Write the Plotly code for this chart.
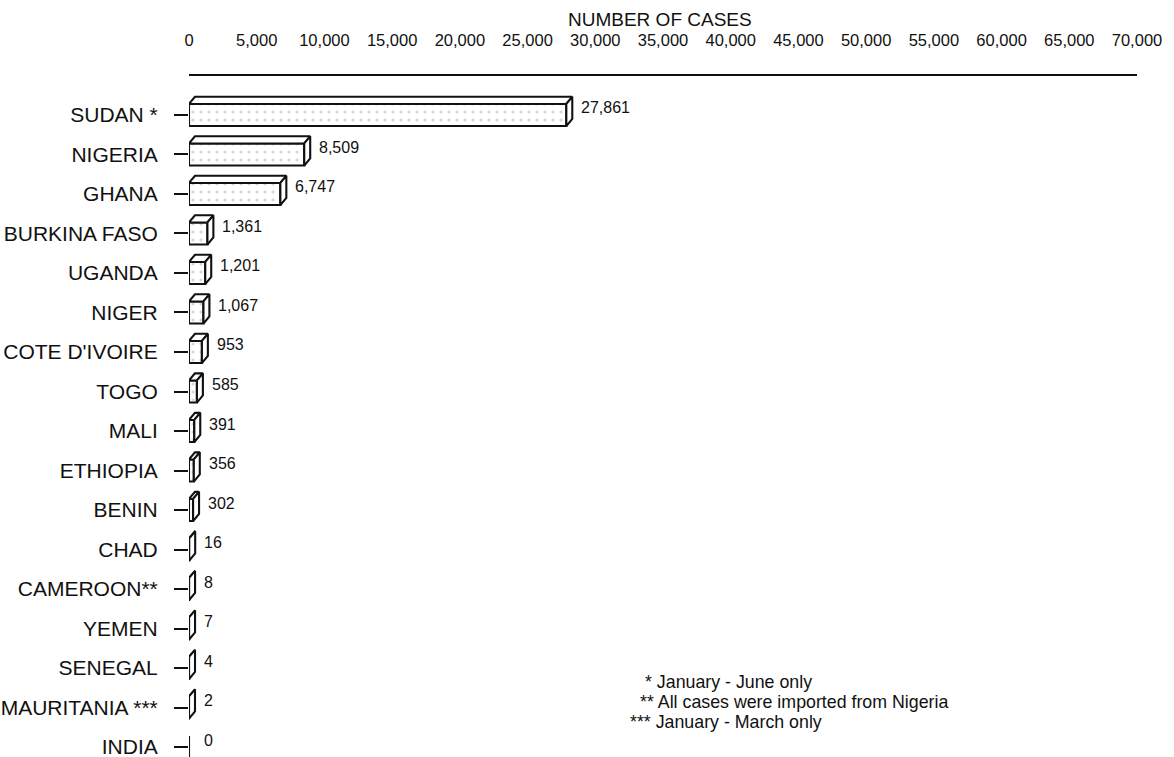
import plotly.graph_objects as go

# Reported cases by country
countries = [
    "SUDAN *", "NIGERIA", "GHANA", "BURKINA FASO", "UGANDA", "NIGER",
    "COTE D'IVOIRE", "TOGO", "MALI", "ETHIOPIA", "BENIN", "CHAD",
    "CAMEROON**", "YEMEN", "SENEGAL", "MAURITANIA ***", "INDIA",
]
cases = [27861, 8509, 6747, 1361, 1201, 1067, 953, 585, 391, 356, 302,
         16, 8, 7, 4, 2, 0]

x_tick_values = list(range(0, 70001, 5000))
x_tick_labels = [f"{v:,}" for v in x_tick_values]

axis_title = "NUMBER OF CASES"
footnotes = [
    "* January - June only",
    "** All cases were imported from Nigeria",
    "*** January - March only",
]

FONT = "Liberation Sans, Arial, Helvetica, sans-serif"
INK = "#111111"

rows = list(range(len(countries)))

# box geometry: front face half-height (row units) and the depth offset
HALF = 0.28
DX = 440      # depth along x, in cases
DY = 0.18     # depth along y, in row units (upwards)
EDGE = 2.1    # outline width

fig = go.Figure()

# front faces of the boxes
fig.add_trace(go.Bar(
    x=cases, y=rows, orientation="h", width=2 * HALF,
    marker=dict(
        color="white",
        line=dict(color=INK, width=EDGE),
        pattern=dict(shape=".", fgcolor="#adadad", bgcolor="white",
                     size=8, solidity=0.12),
    ),
    hoverinfo="skip", showlegend=False,
))

# top and right-hand faces, giving the boxes their depth
top_x, top_y, side_x, side_y = [], [], [], []
for r, v in zip(rows, cases):
    if v <= 0:
        continue
    y0, y1 = r - HALF, r + HALF
    top_x += [0, v, v + DX, DX, 0, None]
    top_y += [y0, y0, y0 - DY, y0 - DY, y0, None]
    side_x += [v, v + DX, v + DX, v, v, None]
    side_y += [y0, y0 - DY, y1 - DY, y1, y0, None]

for xs, ys in ((top_x, top_y), (side_x, side_y)):
    fig.add_trace(go.Scatter(
        x=xs, y=ys, mode="lines", fill="toself", fillcolor="white",
        line=dict(color=INK, width=EDGE), hoverinfo="skip",
        showlegend=False,
    ))

# value labels at the end of each box
for r, v in zip(rows, cases):
    fig.add_annotation(
        x=v, y=r, xref="x", yref="y", text=f"{v:,}", showarrow=False,
        xanchor="left", yanchor="middle", xshift=13, yshift=7,
        font=dict(family=FONT, size=16, color=INK),
    )

# axis title above the tick labels
fig.add_annotation(
    x=0.497, y=1.0837, xref="paper", yref="paper", text=axis_title,
    showarrow=False, xanchor="center", yanchor="middle",
    font=dict(family=FONT, size=19, color=INK),
)

# footnotes
foot_x = [643, 638, 628]
foot_y = [682, 702, 722]
for txt, px, py in zip(footnotes, foot_x, foot_y):
    fig.add_annotation(
        x=(px - 189) / 948, y=(757 - py) / 681, xref="paper", yref="paper",
        text=txt, showarrow=False, xanchor="left", yanchor="middle",
        font=dict(family=FONT, size=17.8, color=INK),
    )

fig.update_layout(
    width=1174, height=757, autosize=False,
    margin=dict(l=189, r=37, t=76, b=0),
    paper_bgcolor="white", plot_bgcolor="white",
    font=dict(family=FONT, color=INK),
    showlegend=False,
    xaxis=dict(
        range=[0, 70000], side="top", showline=True, linecolor=INK,
        linewidth=1.5, showgrid=False, zeroline=False, ticks="",
        tickvals=x_tick_values, ticktext=x_tick_labels,
        tickfont=dict(family=FONT, size=16.5, color=INK),
        ticklabelstandoff=22, fixedrange=True,
    ),
    yaxis=dict(
        range=[16.253, -0.987], showline=False, showgrid=False,
        zeroline=False, ticks="outside", ticklen=14, tickwidth=1.5,
        tickcolor=INK, tickvals=rows, ticktext=countries,
        tickfont=dict(family=FONT, size=21, color=INK),
        ticklabelstandoff=12, ticklabeloverflow="allow", fixedrange=True,
    ),
)

fig.write_html("out.html")
